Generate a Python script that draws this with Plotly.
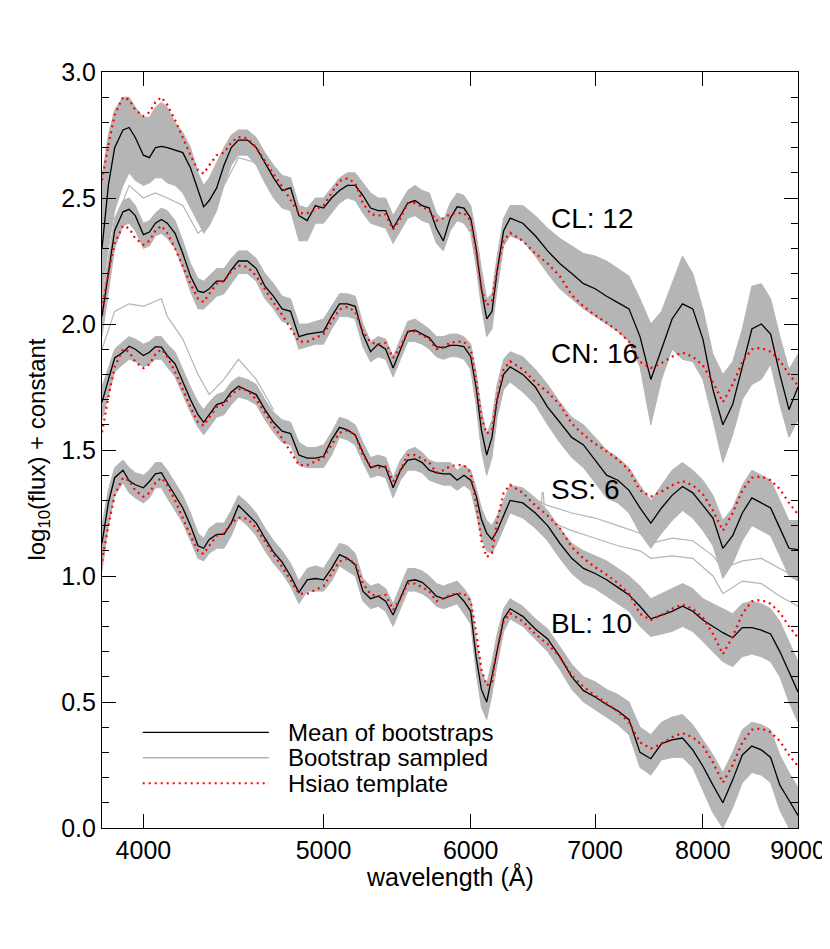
import numpy as np
import plotly.graph_objects as go

# wavelength grid (Angstrom)
wl = [3800, 3830, 3860, 3900, 3930, 3960, 4000, 4030, 4060, 4090,
      4120, 4160, 4200, 4240, 4280, 4310, 4340, 4380, 4420, 4460,
      4500, 4550, 4600, 4650, 4700, 4750, 4800, 4850, 4900, 4950,
      5000, 5050, 5100, 5150, 5200, 5250, 5300, 5350, 5400, 5450,
      5500, 5550, 5600, 5650, 5700, 5750, 5800, 5850, 5900, 5950,
      6000, 6040, 6080, 6120, 6160, 6200, 6250, 6300, 6400, 6500,
      6600, 6700, 6800, 6900, 7000, 7100, 7200, 7300, 7400, 7500,
      7600, 7700, 7800, 7900, 8000, 8100, 8200, 8300, 8400, 8500,
      8600, 8700, 8800, 8900, 9000]

# Hsiao template (top group level); the other groups are shifted by a constant
hsiao = [2.57, 2.71, 2.83, 2.90, 2.89, 2.85, 2.825, 2.84, 2.88, 2.90,
         2.87, 2.81, 2.74, 2.67, 2.61, 2.597, 2.63, 2.67, 2.68, 2.72,
         2.742, 2.737, 2.70, 2.645, 2.595, 2.546, 2.49, 2.44, 2.44, 2.456,
         2.47, 2.52, 2.568, 2.578, 2.56, 2.48, 2.437, 2.43, 2.435, 2.375,
         2.42, 2.48, 2.48, 2.465, 2.45, 2.41, 2.42, 2.436, 2.44, 2.44,
         2.41, 2.29, 2.14, 2.075, 2.09, 2.22, 2.33, 2.362, 2.33, 2.28,
         2.24, 2.19, 2.115, 2.07, 2.035, 2.005, 1.972, 1.93, 1.85, 1.825,
         1.845, 1.87, 1.887, 1.87, 1.835, 1.77, 1.69, 1.76, 1.85, 1.90,
         1.905, 1.89, 1.855, 1.80, 1.755]
offsets = {"CL": 0.0, "CN": -0.51, "SS": -1.0, "BL": -1.51}

# mean of bootstraps
cl_mean = [2.30, 2.55, 2.70, 2.77, 2.78, 2.74, 2.67, 2.66, 2.70, 2.705,
           2.70, 2.69, 2.68, 2.62, 2.53, 2.465, 2.49, 2.54, 2.63, 2.70,
           2.73, 2.73, 2.70, 2.64, 2.58, 2.53, 2.54, 2.43, 2.41, 2.47,
           2.46, 2.50, 2.53, 2.55, 2.55, 2.51, 2.46, 2.45, 2.45, 2.38,
           2.43, 2.48, 2.49, 2.47, 2.46, 2.38, 2.33, 2.42, 2.465, 2.46,
           2.42, 2.30, 2.14, 2.02, 2.05, 2.21, 2.37, 2.42, 2.40, 2.35,
           2.29, 2.24, 2.20, 2.16, 2.14, 2.11, 2.085, 2.06, 1.95, 1.78,
           1.90, 2.02, 2.08, 2.06, 1.94, 1.74, 1.60, 1.68, 1.83, 1.98,
           2.00, 1.96, 1.80, 1.66, 1.75]
cn_mean = [2.03, 2.20, 2.37, 2.445, 2.455, 2.43, 2.355, 2.365, 2.40, 2.415,
           2.40, 2.36, 2.28, 2.19, 2.13, 2.125, 2.14, 2.17, 2.17, 2.215,
           2.25, 2.25, 2.22, 2.15, 2.11, 2.06, 2.05, 1.95, 1.96, 1.965,
           1.97, 2.03, 2.08, 2.08, 2.07, 1.96, 1.89, 1.92, 1.90, 1.825,
           1.90, 1.97, 1.975, 1.96, 1.945, 1.91, 1.905, 1.915, 1.915, 1.91,
           1.87, 1.75, 1.58, 1.48, 1.55, 1.70, 1.80, 1.83, 1.80, 1.75,
           1.67, 1.61, 1.55, 1.52, 1.46, 1.40, 1.38, 1.34, 1.27, 1.21,
           1.27, 1.32, 1.355, 1.33, 1.28, 1.23, 1.11, 1.16, 1.25, 1.31,
           1.29, 1.27, 1.19, 1.11, 1.105]
ss_mean = [1.69, 1.78, 1.865, 1.888, 1.912, 1.90, 1.875, 1.888, 1.91, 1.908,
           1.875, 1.842, 1.77, 1.70, 1.64, 1.61, 1.64, 1.68, 1.69, 1.73,
           1.753, 1.738, 1.72, 1.66, 1.61, 1.575, 1.565, 1.48, 1.468, 1.468,
           1.475, 1.54, 1.59, 1.58, 1.56, 1.49, 1.43, 1.44, 1.43, 1.35,
           1.42, 1.46, 1.465, 1.45, 1.42, 1.41, 1.405, 1.405, 1.38, 1.40,
           1.38, 1.32, 1.225, 1.17, 1.145, 1.18, 1.24, 1.30, 1.29, 1.25,
           1.20, 1.13, 1.07, 1.03, 1.01, 0.985, 0.955, 0.925, 0.88, 0.83,
           0.845, 0.86, 0.88, 0.86, 0.825, 0.80, 0.775, 0.755, 0.795, 0.795,
           0.785, 0.77, 0.70, 0.62, 0.54]
bl_mean = [1.13, 1.29, 1.39, 1.42, 1.378, 1.362, 1.35, 1.375, 1.405, 1.41,
           1.37, 1.32, 1.27, 1.20, 1.12, 1.11, 1.145, 1.165, 1.165, 1.21,
           1.28, 1.245, 1.21, 1.15, 1.095, 1.055, 1.00, 0.935, 0.985, 0.99,
           0.985, 1.03, 1.085, 1.07, 1.045, 0.94, 0.91, 0.92, 0.90, 0.845,
           0.91, 0.98, 0.985, 0.975, 0.95, 0.92, 0.91, 0.92, 0.93, 0.90,
           0.86, 0.68, 0.55, 0.50, 0.60, 0.71, 0.83, 0.87, 0.84, 0.79,
           0.75, 0.68, 0.60, 0.545, 0.52, 0.49, 0.465, 0.43, 0.30, 0.275,
           0.335, 0.35, 0.357, 0.31, 0.245, 0.17, 0.10, 0.19, 0.29, 0.325,
           0.31, 0.28, 0.17, 0.11, 0.05]

# spread of the bootstrap samples (upper / lower edge of the dense grey band)
cl_hi = [2.58, 2.75, 2.85, 2.90, 2.90, 2.86, 2.82, 2.82, 2.86, 2.88,
         2.86, 2.80, 2.76, 2.70, 2.60, 2.55, 2.58, 2.64, 2.70, 2.75,
         2.77, 2.77, 2.74, 2.68, 2.63, 2.59, 2.58, 2.47, 2.46, 2.50,
         2.50, 2.54, 2.58, 2.60, 2.60, 2.56, 2.52, 2.50, 2.50, 2.43,
         2.48, 2.53, 2.55, 2.53, 2.52, 2.44, 2.41, 2.48, 2.52, 2.51,
         2.47, 2.36, 2.22, 2.10, 2.12, 2.27, 2.42, 2.47, 2.47, 2.43,
         2.38, 2.34, 2.31, 2.28, 2.27, 2.25, 2.22, 2.19, 2.10, 2.00,
         2.05, 2.16, 2.27, 2.20, 2.06, 1.88, 1.80, 1.85, 1.98, 2.15,
         2.16, 2.10, 1.95, 1.82, 1.88]
cl_lo = [2.12, 2.30, 2.45, 2.55, 2.60, 2.57, 2.55, 2.56, 2.58, 2.58,
         2.56, 2.55, 2.52, 2.46, 2.40, 2.36, 2.39, 2.45, 2.55, 2.63,
         2.67, 2.67, 2.63, 2.56, 2.50, 2.46, 2.45, 2.33, 2.33, 2.40,
         2.40, 2.44, 2.48, 2.50, 2.49, 2.44, 2.40, 2.39, 2.38, 2.32,
         2.37, 2.42, 2.43, 2.41, 2.40, 2.32, 2.29, 2.37, 2.41, 2.40,
         2.36, 2.23, 2.07, 1.95, 1.98, 2.14, 2.31, 2.35, 2.33, 2.27,
         2.20, 2.14, 2.10, 2.06, 2.03, 2.00, 1.97, 1.93, 1.83, 1.60,
         1.78, 1.90, 1.86, 1.85, 1.78, 1.62, 1.45, 1.56, 1.70, 1.76,
         1.78, 1.84, 1.68, 1.55, 1.62]
cn_hi = [2.10, 2.26, 2.42, 2.49, 2.50, 2.47, 2.40, 2.41, 2.44, 2.46,
         2.45, 2.41, 2.33, 2.24, 2.18, 2.17, 2.19, 2.22, 2.22, 2.26,
         2.29, 2.29, 2.26, 2.20, 2.16, 2.11, 2.10, 2.00, 2.00, 2.01,
         2.02, 2.07, 2.12, 2.12, 2.11, 2.00, 1.93, 1.95, 1.94, 1.87,
         1.94, 2.01, 2.02, 2.00, 1.98, 1.95, 1.95, 1.96, 1.96, 1.95,
         1.92, 1.81, 1.66, 1.56, 1.62, 1.76, 1.86, 1.89, 1.87, 1.82,
         1.76, 1.69, 1.63, 1.60, 1.55, 1.50, 1.47, 1.43, 1.36, 1.30,
         1.36, 1.42, 1.45, 1.42, 1.38, 1.32, 1.22, 1.27, 1.36, 1.42,
         1.40, 1.38, 1.30, 1.22, 1.22]
cn_lo = [1.95, 2.12, 2.30, 2.39, 2.40, 2.37, 2.30, 2.31, 2.35, 2.36,
         2.34, 2.30, 2.22, 2.13, 2.06, 2.06, 2.08, 2.11, 2.12, 2.16,
         2.20, 2.20, 2.17, 2.10, 2.06, 2.01, 2.00, 1.90, 1.91, 1.92,
         1.92, 1.98, 2.03, 2.03, 2.02, 1.91, 1.85, 1.87, 1.86, 1.79,
         1.86, 1.93, 1.93, 1.92, 1.90, 1.87, 1.86, 1.87, 1.87, 1.86,
         1.82, 1.68, 1.50, 1.40, 1.47, 1.63, 1.74, 1.77, 1.73, 1.68,
         1.60, 1.53, 1.47, 1.43, 1.37, 1.31, 1.29, 1.25, 1.17, 1.11,
         1.17, 1.22, 1.26, 1.23, 1.18, 1.12, 0.99, 1.05, 1.14, 1.20,
         1.18, 1.16, 1.08, 1.00, 0.98]
ss_hi = [1.75, 1.83, 1.90, 1.93, 1.95, 1.94, 1.92, 1.93, 1.95, 1.95,
         1.92, 1.89, 1.82, 1.75, 1.69, 1.66, 1.69, 1.72, 1.73, 1.77,
         1.79, 1.78, 1.76, 1.70, 1.65, 1.62, 1.61, 1.53, 1.51, 1.51,
         1.52, 1.57, 1.63, 1.62, 1.60, 1.53, 1.47, 1.48, 1.47, 1.39,
         1.46, 1.50, 1.51, 1.49, 1.46, 1.45, 1.45, 1.45, 1.42, 1.44,
         1.42, 1.35, 1.27, 1.22, 1.20, 1.24, 1.30, 1.36, 1.35, 1.31,
         1.26, 1.19, 1.13, 1.10, 1.08, 1.06, 1.03, 1.00, 0.96, 0.91,
         0.93, 0.95, 0.97, 0.95, 0.91, 0.89, 0.87, 0.85, 0.89, 0.90,
         0.89, 0.87, 0.82, 0.74, 0.66]
ss_lo = [1.62, 1.72, 1.81, 1.84, 1.86, 1.85, 1.83, 1.84, 1.86, 1.86,
         1.83, 1.79, 1.72, 1.65, 1.59, 1.56, 1.59, 1.63, 1.64, 1.68,
         1.71, 1.70, 1.68, 1.62, 1.57, 1.53, 1.52, 1.44, 1.43, 1.43,
         1.43, 1.48, 1.55, 1.54, 1.52, 1.45, 1.39, 1.40, 1.39, 1.31,
         1.38, 1.42, 1.42, 1.41, 1.38, 1.37, 1.36, 1.36, 1.34, 1.36,
         1.34, 1.25, 1.15, 1.10, 1.09, 1.13, 1.19, 1.25, 1.23, 1.19,
         1.14, 1.07, 1.01, 0.97, 0.95, 0.92, 0.89, 0.86, 0.80, 0.76,
         0.77, 0.78, 0.80, 0.78, 0.74, 0.70, 0.66, 0.64, 0.68, 0.69,
         0.68, 0.66, 0.60, 0.50, 0.42]
bl_hi = [1.20, 1.34, 1.43, 1.46, 1.43, 1.41, 1.40, 1.42, 1.45, 1.45,
         1.42, 1.37, 1.32, 1.25, 1.17, 1.15, 1.19, 1.21, 1.21, 1.26,
         1.32, 1.29, 1.25, 1.19, 1.14, 1.10, 1.05, 0.98, 1.03, 1.04,
         1.03, 1.08, 1.13, 1.12, 1.09, 0.99, 0.96, 0.97, 0.95, 0.89,
         0.96, 1.03, 1.03, 1.02, 1.00, 0.97, 0.96, 0.97, 0.98, 0.95,
         0.91, 0.75, 0.62, 0.57, 0.66, 0.77, 0.87, 0.91, 0.88, 0.83,
         0.79, 0.72, 0.65, 0.60, 0.58, 0.55, 0.53, 0.50, 0.40, 0.37,
         0.42, 0.44, 0.45, 0.41, 0.35, 0.29, 0.22, 0.30, 0.39, 0.42,
         0.41, 0.39, 0.29, 0.22, 0.16]
bl_lo = [1.02, 1.20, 1.32, 1.37, 1.33, 1.31, 1.29, 1.31, 1.35, 1.35,
         1.31, 1.26, 1.21, 1.14, 1.07, 1.06, 1.09, 1.11, 1.11, 1.16,
         1.23, 1.20, 1.16, 1.10, 1.05, 1.01, 0.96, 0.89, 0.94, 0.94,
         0.94, 0.98, 1.04, 1.02, 1.00, 0.90, 0.87, 0.88, 0.86, 0.80,
         0.87, 0.94, 0.94, 0.93, 0.91, 0.88, 0.87, 0.88, 0.89, 0.85,
         0.81, 0.62, 0.48, 0.43, 0.53, 0.65, 0.78, 0.83, 0.80, 0.75,
         0.70, 0.63, 0.55, 0.50, 0.47, 0.44, 0.41, 0.37, 0.24, 0.21,
         0.27, 0.28, 0.28, 0.24, 0.15, 0.06, 0.00, 0.08, 0.18, 0.22,
         0.21, 0.18, 0.07, 0.00, -0.05]

# a few single bootstrap curves that stray outside the dense band
cl_out_wl = [3800, 3860, 3930, 4000, 4060, 4120, 4200, 4280, 4340, 4420, 4500, 4600]
cl_out = [2.05, 2.40, 2.55, 2.50, 2.52, 2.50, 2.47, 2.36, 2.40, 2.55, 2.66, 2.64]
ss_out1_wl = [3800, 3860, 3930, 4000, 4060, 4090, 4120, 4200, 4280, 4340, 4420, 4500, 4600, 4700]
ss_out1 = [1.90, 2.05, 2.08, 2.07, 2.09, 2.10, 2.03, 1.94, 1.80, 1.72, 1.78, 1.86, 1.78, 1.66]
ss_out2_wl = [6400, 6600, 6800, 7000, 7200, 7400, 7500, 7700, 7900, 8100, 8200, 8400, 8600, 8800, 9000]
ss_out2 = [1.33, 1.28, 1.25, 1.23, 1.20, 1.17, 1.13, 1.15, 1.14, 1.08, 1.03, 1.06, 1.07, 1.03, 0.99]
ss_out3_wl = [6600, 6800, 7000, 7200, 7400, 7500, 7700, 7900, 8100, 8200, 8400, 8600, 8800, 9000]
ss_out3 = [1.22, 1.18, 1.15, 1.12, 1.10, 1.07, 1.08, 1.07, 1.00, 0.93, 0.98, 0.97, 0.92, 0.88]
ss_spike_wl = [6540, 6555, 6565, 6580]
ss_spike = [1.21, 1.33, 1.33, 1.20]

groups = ["CL", "CN", "SS", "BL"]
means = {"CL": cl_mean, "CN": cn_mean, "SS": ss_mean, "BL": bl_mean}
his = {"CL": cl_hi, "CN": cn_hi, "SS": ss_hi, "BL": bl_hi}
los = {"CL": cl_lo, "CN": cn_lo, "SS": ss_lo, "BL": bl_lo}
counts = {"CL": 12, "CN": 16, "SS": 6, "BL": 10}
label_y = {"CL": 2.417, "CN": 1.881, "SS": 1.345, "BL": 0.81}
label_wl = 6610

for g in groups:
    assert len(means[g]) == len(wl) and len(his[g]) == len(wl) and len(los[g]) == len(wl)
assert len(hsiao) == len(wl)

GRAY = "#b5b5b5"
fig = go.Figure()

# bootstrap samples: grey band
for g in groups:
    fig.add_trace(go.Scatter(x=wl, y=los[g], mode="lines",
                             line=dict(color=GRAY, width=1), hoverinfo="skip"))
    fig.add_trace(go.Scatter(x=wl, y=his[g], mode="lines", fill="tonexty",
                             fillcolor=GRAY, line=dict(color=GRAY, width=1),
                             hoverinfo="skip"))
for xs, ys in [(cl_out_wl, cl_out), (ss_out1_wl, ss_out1), (ss_out2_wl, ss_out2),
               (ss_out3_wl, ss_out3), (ss_spike_wl, ss_spike)]:
    fig.add_trace(go.Scatter(x=xs, y=ys, mode="lines",
                             line=dict(color=GRAY, width=1.2), hoverinfo="skip"))

# mean of bootstraps
for g in groups:
    fig.add_trace(go.Scatter(x=wl, y=means[g], mode="lines",
                             line=dict(color="black", width=1.3)))

# Hsiao template
for g in groups:
    fig.add_trace(go.Scatter(x=wl, y=[v + offsets[g] for v in hsiao], mode="lines",
                             line=dict(color="#ff0000", width=2.2, dash="2px,4px")))

annots = []
for g in groups:
    annots.append(dict(x=np.log10(label_wl), y=label_y[g], xref="x", yref="y",
                       text=f"{g}: {counts[g]}", showarrow=False,
                       xanchor="left", yanchor="middle", font=dict(size=28)))

# axis titles
annots.append(dict(x=0.5, y=-0.0635, xref="paper", yref="paper",
                   text="wavelength (Å)", showarrow=False,
                   xanchor="center", yanchor="middle", font=dict(size=25)))
annots.append(dict(x=-0.0925, y=0.5, xref="paper", yref="paper",
                   text="log<sub>10</sub>(flux) + constant", showarrow=False,
                   textangle=-90, xanchor="center", yanchor="middle",
                   font=dict(size=24)))

# legend drawn by hand (long line samples)
leg = [("Mean of bootstraps", 0.1266, dict(color="black", width=1.3)),
       ("Bootstrap sampled", 0.0930, dict(color=GRAY, width=1.5)),
       ("Hsiao template", 0.0591, dict(color="#ff0000", width=2, dash="2px,4px"))]
shapes = []
for txt, yy, ln in leg:
    shapes.append(dict(type="line", xref="paper", yref="paper",
                       x0=0.0585, x1=0.2398, y0=yy, y1=yy, line=ln))
    annots.append(dict(x=0.2638, y=yy, xref="paper", yref="paper", text=txt,
                       showarrow=False, xanchor="left", yanchor="middle",
                       font=dict(size=24)))

fig.update_layout(
    width=830, height=949,
    margin=dict(l=94, r=40, t=64, b=129, autoexpand=False),
    plot_bgcolor="white", paper_bgcolor="white",
    showlegend=False,
    font=dict(family="Liberation Sans, Arial, sans-serif", size=25, color="black"),
    annotations=annots, shapes=shapes,
)
fig.update_xaxes(type="log", range=[np.log10(3800), np.log10(9000)],
                 tickvals=[4000, 5000, 6000, 7000, 8000, 9000],
                 ticktext=["4000", "5000", "6000", "7000", "8000", "9000"],
                 ticks="inside", ticklen=14, tickwidth=1.2, tickcolor="black",
                 showline=True, linecolor="black", linewidth=1.2, mirror="ticks",
                 showgrid=False, zeroline=False)
fig.update_yaxes(range=[0, 3], tick0=0, dtick=0.5, tickformat=".1f",
                 ticks="inside", ticklen=14, tickwidth=1.2, tickcolor="black",
                 minor=dict(dtick=0.1, ticks="inside", ticklen=7, tickcolor="black",
                            tickwidth=1.2, showgrid=False),
                 showline=True, linecolor="black", linewidth=1.2, mirror="ticks",
                 showgrid=False, zeroline=False)

fig.write_html("out.html")
